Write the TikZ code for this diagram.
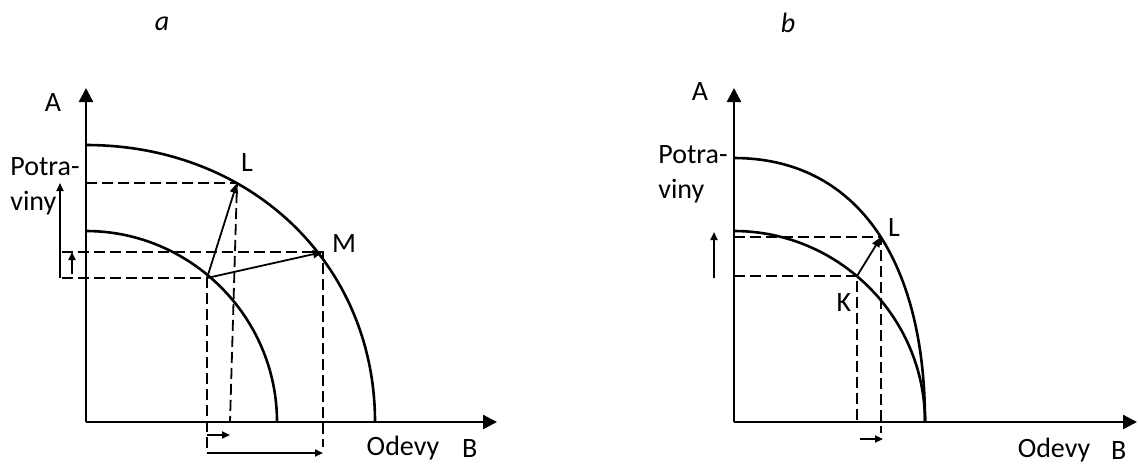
\documentclass[tikz,border=0pt]{standalone}
\usepackage{fontspec}
\setmainfont{Carlito}
\usetikzlibrary{positioning,arrows.meta,calc}

\begin{document}
\begin{tikzpicture}[
    x=0.5pt, y=-0.5pt, font=\fontsize{14}{17}\selectfont,
    axis/.style={line width=1.2pt, -{Triangle[length=7pt,width=7pt]}},
    frontier/.style={line width=1.3pt},
    guide/.style={line width=0.9pt, dash pattern=on 5.5pt off 2.5pt},
    move/.style={line width=0.9pt, -{Triangle[length=5pt,width=4pt]}},
    growth/.style={line width=0.9pt, -{Triangle[length=4pt,width=3.5pt]}},
    lbl/.style={inner sep=0pt}]
  \useasboundingbox (0,0) rectangle (1138,463);

  % panel a
  \coordinate (Oa) at (86,422);
  \coordinate (Ka) at (207,278);
  \coordinate (La) at (237,183);
  \coordinate (Ma) at (323,252);
  \coordinate (Lfoot) at (230,422);
  \coordinate (va) at (60,0);
  \coordinate (ha) at (62,0);
  \coordinate (sa) at (72,0);
  \coordinate (ca) at (0,435);
  \coordinate (ba) at (0,453);
  \coordinate (da) at (0,447);

  \draw[axis] (Oa) -- (86,88);
  \draw[axis] (Oa) -- (497,422);
  \draw[frontier] (86,145) .. controls (251,145) and (375,264) .. (375,422);
  \draw[frontier] (86,231) .. controls (191,231) and (277,317) .. (277,422);

  \draw[guide] (La -| Oa) -- (La) -- (Lfoot);
  \draw[guide] (Ma -| ha) -- (Ma) -- (Ma |- da);
  \draw[guide] (Ka -| ha) -- (Ka) -- (Ka |- ba);
  \draw[move] (Ka) -- (La);
  \draw[move] (Ka) -- (Ma);

  \draw[growth] (Ka -| va) -- (La -| va);
  \draw[growth] ($(Ka -| sa)+(0,-4)$) -- (Ma -| sa);
  \draw[growth] (Ka |- ca) -- (Lfoot |- ca);
  \draw[growth] (Ka |- ba) -- (Ma |- ba);

  \node[lbl, font=\fontsize{14}{17}\selectfont\itshape] (ta) at (162,24) {a};
  \node[lbl] (Aa) at (53,103) {A};
  \node[lbl, anchor=base west] (pa) at (10,175) {Potra-};
  \node[lbl, anchor=base west] (pa2) at (10,210) {viny};
  \node[lbl] (lLa) at (247,163) {L};
  \node[lbl] (lMa) at (344,244) {M};
  \node[lbl] (oda) at (403,448) {Odevy};
  \node[lbl, right=11pt of oda] (Ba) {B};

  % panel b
  \coordinate (Ob) at (734,422);
  \coordinate (Kb) at (857,276);
  \coordinate (Lb) at (881,237);
  \coordinate (sb) at (714,0);
  \coordinate (cb) at (0,439);
  \coordinate (eb) at (0,433);

  \draw[axis] (Ob) -- (734,88);
  \draw[axis] (Ob) -- (1137,422);
  \draw[frontier] (734,158) .. controls (854,158) and (925,256) .. (925,422);
  \draw[frontier] (734,231) .. controls (839,231) and (925,317) .. (925,422);

  \draw[guide] (Lb -| Ob) -- (Lb) -- (Lb |- eb);
  \draw[guide] (Kb -| Ob) -- (Kb) -- (Kb |- Ob);
  \draw[move] (Kb) -- (Lb);

  \draw[growth] ($(Kb -| sb)+(0,2)$) -- ($(Lb -| sb)+(0,-5)$);
  \draw[growth] ($(Kb |- cb)+(3,0)$) -- ($(Lb |- cb)+(2,0)$);

  \node[lbl, font=\fontsize{14}{17}\selectfont\itshape] (tb) at (788,23) {b};
  \node[lbl] (Ab) at (700,92) {A};
  \node[lbl, anchor=base west] (pb) at (658,163) {Potra-};
  \node[lbl, anchor=base west] (pb2) at (658,198) {viny};
  \node[lbl] (lLb) at (894,228) {L};
  \node[lbl] (lKb) at (844,303) {K};
  \node[lbl] (odb) at (1054,450) {Odevy};
  \node[lbl, right=10pt of odb] (Bb) {B};
\end{tikzpicture}
\end{document}
